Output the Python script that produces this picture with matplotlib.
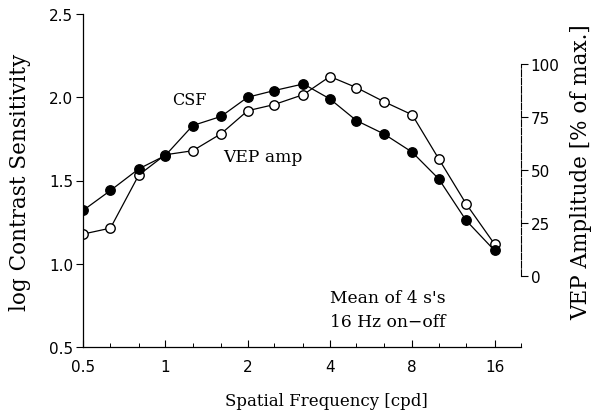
import matplotlib
matplotlib.use("Agg")
import matplotlib.pyplot as plt
from matplotlib.ticker import FixedLocator, NullFormatter

freq = [0.5, 0.63, 0.8, 1.0, 1.26, 1.6, 2.0, 2.5, 3.2, 4.0, 5.0, 6.3, 8.0, 10.0, 12.6, 16.0]
csf = [1.32, 1.44, 1.57, 1.65, 1.83, 1.885, 2.00, 2.04, 2.08, 1.99, 1.86, 1.78, 1.67, 1.51, 1.26, 1.08]
vep = [19.8, 22.6, 47.6, 57.1, 59.0, 67.0, 77.8, 80.7, 85.4, 93.9, 88.7, 82.1, 75.9, 55.2, 34.0, 15.1]

xticks = [0.5, 1, 2, 4, 8, 16]
xticklabels = ["0.5", "1", "2", "4", "8", "16"]
xminor = [0.63, 0.8, 1.26, 1.6, 2.5, 3.2, 5.0, 6.3, 10.0, 12.6, 20.0]
lticks = [0.5, 1.0, 1.5, 2.0, 2.5]
rticks = [0, 25, 50, 75, 100]

fig = plt.figure(figsize=(5.96, 4.14), dpi=100)
ax = fig.add_axes([83/596, 1-348/414, (521-83)/596, (348-15)/414])
ax2 = ax.twinx()

ax.set_xscale("log")
ax.set_xlim(0.5, 20)
ax.set_ylim(0.5, 2.5)
ax2.set_ylim(-33.3, 123.3)

ax2.plot(freq, vep, "-o", color="black", lw=0.9, markersize=6.8,
         markerfacecolor="white", markeredgecolor="black", markeredgewidth=1.0, zorder=2)
ax.plot(freq, csf, "-o", color="black", lw=0.9, markersize=6.8,
        markerfacecolor="black", markeredgecolor="black", zorder=3)
ax.set_zorder(ax2.get_zorder() + 1)
ax.patch.set_visible(False)

ax.xaxis.set_major_locator(FixedLocator(xticks))
ax.set_xticklabels(xticklabels)
ax.xaxis.set_minor_locator(FixedLocator(xminor))
ax.xaxis.set_minor_formatter(NullFormatter())
ax.set_yticks(lticks)
ax.set_yticklabels([f"{v:.1f}" for v in lticks])
ax2.set_yticks(rticks)
ax2.set_yticklabels([str(v) for v in rticks])

for a in (ax, ax2):
    a.spines["top"].set_visible(False)
ax.spines["right"].set_visible(False)
ax2.spines["left"].set_visible(False)
ax2.spines["bottom"].set_visible(False)
ax2.spines["right"].set_bounds(0, 100)
for s in ("left", "bottom"):
    ax.spines[s].set_linewidth(0.9)
ax2.spines["right"].set_linewidth(0.8)
ax2.spines["right"].set_linestyle((0, (6, 1.5)))

ax.tick_params(axis="x", which="major", direction="in", length=5, width=0.8,
               labelsize=11, pad=9)
ax.tick_params(axis="x", which="minor", direction="in", length=3, width=0.7)
ax.tick_params(axis="y", direction="out", length=5, width=0.8, labelsize=11, pad=2)
ax2.tick_params(axis="y", direction="out", length=5, width=0.8, labelsize=11, pad=2)

serif = ["DejaVu Serif"]
ax.set_xlabel("Spatial Frequency [cpd]", fontsize=12, family=serif)
ax.xaxis.set_label_coords(0.555, -0.135)
ax.set_ylabel("log Contrast Sensitivity", fontsize=15.5, family=serif)
ax.yaxis.set_label_coords(-0.119, 0.498)
ax2.set_ylabel("VEP Amplitude [% of max.]", fontsize=15.5, family=serif)
ax2.yaxis.set_label_coords(1.112, 0.529)

ax.text(1.22, 1.985, "CSF", fontsize=11.5, family=serif, ha="center", va="center")
ax.text(1.63, 1.645, "VEP amp", fontsize=12.3, family=serif, ha="left", va="center")
ax.text(4.0, 0.80, "Mean of 4 s's", fontsize=12.3, family=serif, ha="left", va="center")
ax.text(4.0, 0.655, "16 Hz on\u2212off", fontsize=12.3, family=serif, ha="left", va="center")

fig.savefig("out.png", dpi=100)
